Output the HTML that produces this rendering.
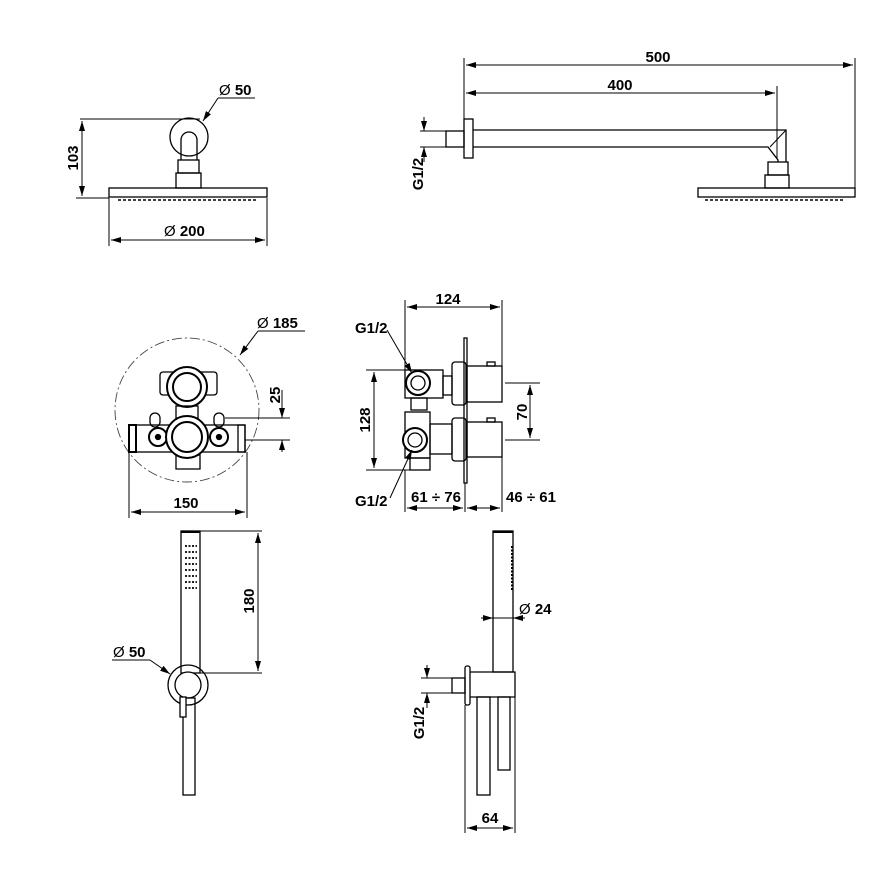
<!DOCTYPE html>
<html><head><meta charset="utf-8"><style>
html,body{margin:0;padding:0;background:#fff}
svg{display:block}
text{font-family:"Liberation Sans",sans-serif;font-weight:bold;font-size:15px;fill:#000}
.d{font-weight:normal}
</style></head><body>
<svg width="878" height="878" viewBox="0 0 878 878" xmlns="http://www.w3.org/2000/svg">
<defs>
<marker id="a" viewBox="0 0 10 6" refX="10" refY="3" markerWidth="10" markerHeight="6" orient="auto-start-reverse" markerUnits="userSpaceOnUse"><path d="M0,0 L10,3 L0,6 Z" fill="#000"/></marker>
</defs>
<g fill="none" stroke="#000" stroke-width="1.3">
<!-- TOP LEFT -->
<rect x="109" y="188" width="158" height="9"/>
<line x1="118" y1="200" x2="258" y2="200" stroke-dasharray="3,2" stroke-width="1.5"/>
<circle cx="189" cy="137" r="19"/>
<path d="M181,160 V140 A8,8 0 0 1 197,140 V160"/>
<rect x="178" y="160" width="21" height="13"/>
<rect x="176" y="173" width="25" height="15"/>
<line x1="80" y1="119" x2="200" y2="119" stroke-width="1"/>
<line x1="76" y1="198" x2="109" y2="198" stroke-width="1"/>
<line x1="82" y1="121" x2="82" y2="196" marker-start="url(#a)" marker-end="url(#a)" stroke-width="1"/>
<line x1="109" y1="198" x2="109" y2="246" stroke-width="1"/>
<line x1="267" y1="198" x2="267" y2="246" stroke-width="1"/>
<line x1="111" y1="240" x2="265" y2="240" marker-start="url(#a)" marker-end="url(#a)" stroke-width="1"/>
<line x1="218" y1="98" x2="203" y2="121" marker-end="url(#a)" stroke-width="1"/>
<line x1="218" y1="98" x2="255" y2="98" stroke-width="1"/>

<!-- TOP RIGHT -->
<rect x="464" y="119" width="9" height="39"/>
<rect x="446" y="131" width="18" height="16"/>
<path d="M473,130 H786 V162 M473,147 H768 L778,160 V162"/>
<line x1="770" y1="147" x2="786" y2="130" stroke-width="1"/>
<rect x="768" y="162" width="20" height="13"/>
<rect x="765" y="175" width="24" height="13"/>
<rect x="698" y="188" width="157" height="9"/>
<line x1="705" y1="200" x2="845" y2="200" stroke-dasharray="3,2" stroke-width="1.5"/>
<line x1="464" y1="58" x2="464" y2="119" stroke-width="1"/>
<line x1="777" y1="86" x2="777" y2="158" stroke-width="1"/>
<line x1="855" y1="58" x2="855" y2="188" stroke-width="1"/>
<line x1="466" y1="65" x2="853" y2="65" marker-start="url(#a)" marker-end="url(#a)" stroke-width="1"/>
<line x1="466" y1="93" x2="775" y2="93" marker-start="url(#a)" marker-end="url(#a)" stroke-width="1"/>
<line x1="420" y1="131" x2="446" y2="131" stroke-width="1"/>
<line x1="420" y1="147" x2="446" y2="147" stroke-width="1"/>
<line x1="424" y1="117" x2="424" y2="131" marker-end="url(#a)" stroke-width="1"/>
<line x1="424" y1="162" x2="424" y2="147" marker-end="url(#a)" stroke-width="1"/>

<!-- MIDDLE LEFT -->
<circle cx="187" cy="410" r="72" stroke-dasharray="10,3,2,3" stroke-width="0.9" stroke="#444"/>
<rect x="160" y="372" width="57" height="23" rx="3"/>
<circle cx="187" cy="387" r="20" fill="#fff" stroke-width="2"/>
<circle cx="187" cy="387" r="14" stroke-width="2"/>
<rect x="176" y="406" width="22" height="12"/>
<rect x="129" y="425" width="116" height="27"/>
<rect x="129" y="425" width="7" height="27" stroke-width="2"/>
<rect x="238" y="425" width="7" height="27"/>
<rect x="150" y="413" width="10" height="14" rx="5"/>
<rect x="214" y="413" width="10" height="14" rx="5"/>
<circle cx="158" cy="437" r="9" fill="#fff" stroke-width="2"/>
<circle cx="158" cy="437" r="2.5" fill="#000"/>
<circle cx="219" cy="437" r="9" fill="#fff" stroke-width="2"/>
<circle cx="219" cy="437" r="2.5" fill="#000"/>
<rect x="176" y="455" width="24" height="14"/>
<circle cx="187" cy="437" r="21" fill="#fff" stroke-width="2"/>
<circle cx="187" cy="437" r="15" stroke-width="2"/>
<line x1="225" y1="418" x2="290" y2="418" stroke-width="1"/>
<line x1="245" y1="440" x2="290" y2="440" stroke-width="1"/>
<line x1="282" y1="390" x2="282" y2="418" marker-end="url(#a)" stroke-width="1"/>
<line x1="282" y1="452" x2="282" y2="440" marker-end="url(#a)" stroke-width="1"/>
<line x1="129" y1="452" x2="129" y2="518" stroke-width="1"/>
<line x1="247" y1="452" x2="247" y2="518" stroke-width="1"/>
<line x1="131" y1="512" x2="245" y2="512" marker-start="url(#a)" marker-end="url(#a)" stroke-width="1"/>
<line x1="258" y1="331" x2="240" y2="355" marker-end="url(#a)" stroke-width="1"/>
<line x1="258" y1="331" x2="305" y2="331" stroke-width="1"/>

<!-- MIDDLE RIGHT -->
<rect x="464" y="338" width="3" height="145"/>
<rect x="452" y="362" width="14" height="43" rx="3"/>
<rect x="467" y="366" width="35" height="36"/>
<rect x="487" y="362" width="8" height="4"/>
<rect x="452" y="418" width="14" height="43" rx="3"/>
<rect x="467" y="422" width="35" height="35"/>
<rect x="487" y="418" width="8" height="4"/>
<rect x="405" y="370" width="38" height="28"/>
<rect x="443" y="376" width="9" height="19"/>
<rect x="411" y="398" width="16" height="12"/>
<rect x="405" y="412" width="25" height="46"/>
<rect x="430" y="424" width="22" height="30"/>
<rect x="410" y="458" width="20" height="12"/>
<circle cx="418" cy="383" r="12" fill="#fff" stroke-width="2"/>
<circle cx="418" cy="383" r="7"/>
<circle cx="415" cy="440" r="12" fill="#fff" stroke-width="2"/>
<circle cx="415" cy="440" r="7"/>
<line x1="405" y1="300" x2="405" y2="370" stroke-width="1"/>
<line x1="502" y1="300" x2="502" y2="366" stroke-width="1"/>
<line x1="407" y1="307" x2="500" y2="307" marker-start="url(#a)" marker-end="url(#a)" stroke-width="1"/>
<line x1="366" y1="370" x2="405" y2="370" stroke-width="1"/>
<line x1="366" y1="470" x2="410" y2="470" stroke-width="1"/>
<line x1="374" y1="372" x2="374" y2="468" marker-start="url(#a)" marker-end="url(#a)" stroke-width="1"/>
<line x1="505" y1="383" x2="540" y2="383" stroke-width="1"/>
<line x1="505" y1="440" x2="540" y2="440" stroke-width="1"/>
<line x1="530" y1="385" x2="530" y2="438" marker-start="url(#a)" marker-end="url(#a)" stroke-width="1"/>
<line x1="405" y1="470" x2="405" y2="512" stroke-width="1"/>
<line x1="465" y1="483" x2="465" y2="512" stroke-width="1"/>
<line x1="502" y1="457" x2="502" y2="512" stroke-width="1"/>
<line x1="407" y1="508" x2="463" y2="508" marker-start="url(#a)" marker-end="url(#a)" stroke-width="1"/>
<line x1="467" y1="508" x2="500" y2="508" marker-start="url(#a)" marker-end="url(#a)" stroke-width="1"/>
<line x1="387" y1="330" x2="412" y2="373" marker-end="url(#a)" stroke-width="1"/>
<line x1="390" y1="498" x2="412" y2="450" marker-end="url(#a)" stroke-width="1"/>

<!-- BOTTOM LEFT -->
<rect x="181" y="531" width="19" height="142"/>
<line x1="181" y1="532" x2="200" y2="532" stroke-width="2"/>
<g stroke-width="1.8" stroke-dasharray="2,1.5">
<line x1="185" y1="546" x2="197" y2="546"/><line x1="185" y1="552" x2="197" y2="552"/>
<line x1="185" y1="558" x2="197" y2="558"/><line x1="185" y1="564" x2="197" y2="564"/>
<line x1="185" y1="570" x2="197" y2="570"/><line x1="185" y1="576" x2="197" y2="576"/>
<line x1="185" y1="582" x2="197" y2="582"/><line x1="185" y1="588" x2="197" y2="588"/>
</g>
<circle cx="188" cy="685" r="20"/>
<circle cx="188" cy="685" r="13" fill="#fff"/>
<rect x="183" y="698" width="12" height="97"/>
<rect x="180" y="697" width="6" height="20" fill="#fff"/>
<line x1="200" y1="673" x2="262" y2="673" stroke-width="1"/>
<line x1="200" y1="531" x2="262" y2="531" stroke-width="1"/>
<line x1="258" y1="533" x2="258" y2="671" marker-start="url(#a)" marker-end="url(#a)" stroke-width="1"/>
<line x1="112" y1="660" x2="150" y2="660" stroke-width="1"/>
<line x1="150" y1="660" x2="170" y2="674" marker-end="url(#a)" stroke-width="1"/>

<!-- BOTTOM RIGHT -->
<rect x="493" y="531" width="20" height="141"/>
<line x1="493" y1="532" x2="513" y2="532" stroke-width="2"/>
<line x1="512" y1="546" x2="512" y2="590" stroke-width="2" stroke-dasharray="2,1.5"/>
<path d="M470,672 H515 V697 H470"/>
<rect x="465" y="666" width="5" height="39" rx="2"/>
<rect x="452" y="678" width="13" height="15"/>
<rect x="477" y="697" width="13" height="98"/>
<rect x="498" y="697" width="12" height="73"/>
<line x1="421" y1="678" x2="452" y2="678" stroke-width="1"/>
<line x1="421" y1="693" x2="452" y2="693" stroke-width="1"/>
<line x1="427" y1="665" x2="427" y2="678" marker-end="url(#a)" stroke-width="1"/>
<line x1="427" y1="708" x2="427" y2="693" marker-end="url(#a)" stroke-width="1"/>
<line x1="481" y1="618" x2="493" y2="618" marker-end="url(#a)" stroke-width="1"/>
<line x1="525" y1="618" x2="513" y2="618" marker-end="url(#a)" stroke-width="1"/>
<line x1="493" y1="618" x2="513" y2="618" stroke-width="1"/>
<line x1="465" y1="705" x2="465" y2="833" stroke-width="1"/>
<line x1="515" y1="697" x2="515" y2="833" stroke-width="1"/>
<line x1="467" y1="828" x2="513" y2="828" marker-start="url(#a)" marker-end="url(#a)" stroke-width="1"/>
</g>

<!-- TEXT -->
<text x="219" y="95"><tspan class="d">Ø</tspan> 50</text>
<text x="164" y="236"><tspan class="d">Ø</tspan> 200</text>
<text transform="translate(78,158) rotate(-90)" text-anchor="middle">103</text>
<text x="658" y="62" text-anchor="middle">500</text>
<text x="620" y="90" text-anchor="middle">400</text>
<text transform="translate(423,174) rotate(-90)" text-anchor="middle">G1/2</text>
<text x="257" y="328"><tspan class="d">Ø</tspan> 185</text>
<text transform="translate(280,395) rotate(-90)" text-anchor="middle">25</text>
<text x="186" y="508" text-anchor="middle">150</text>
<text x="448" y="304" text-anchor="middle">124</text>
<text x="355" y="333">G1/2</text>
<text x="355" y="506">G1/2</text>
<text transform="translate(370,420) rotate(-90)" text-anchor="middle">128</text>
<text transform="translate(527,412) rotate(-90)" text-anchor="middle">70</text>
<text x="436" y="502" text-anchor="middle">61 ÷ 76</text>
<text x="531" y="502" text-anchor="middle">46 ÷ 61</text>
<text transform="translate(254,601) rotate(-90)" text-anchor="middle">180</text>
<text x="113" y="657"><tspan class="d">Ø</tspan> 50</text>
<text x="519" y="614"><tspan class="d">Ø</tspan> 24</text>
<text transform="translate(424,723) rotate(-90)" text-anchor="middle">G1/2</text>
<text x="490" y="823" text-anchor="middle">64</text>
</svg>
</body></html>
